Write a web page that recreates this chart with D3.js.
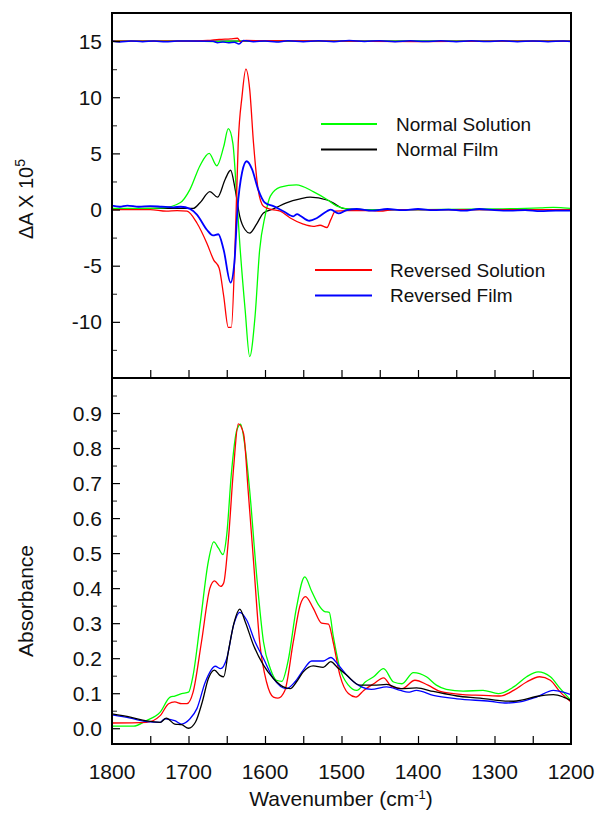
<!DOCTYPE html>
<html>
<head>
<meta charset="utf-8">
<script src="https://cdn.jsdelivr.net/npm/d3@7"></script>
<style>
  html, body { margin: 0; padding: 0; background: #fff; }
  svg { display: block; font-family: "Liberation Sans", Arial, sans-serif; }
</style>
</head>
<body>
<svg id="chart" width="596" height="814"></svg>
<script>
// ---------------- DATA ----------------
const xTicks = [1800, 1700, 1600, 1500, 1400, 1300, 1200];
const topYTicks = [-10, -5, 0, 5, 10, 15];
const botYTicks = [0.0, 0.1, 0.2, 0.3, 0.4, 0.5, 0.6, 0.7, 0.8, 0.9];
const legendLabels = ["Normal Solution", "Normal Film", "Reversed Solution", "Reversed Film"];

// Difference spectra (top panel), [wavenumber, ΔA x 10^5]
const diffNormalSolution = [
  [1800, 0.1], [1760, 0.1], [1733, 0.15], [1711, 0.6], [1698, 1.8], [1685, 3.9], [1673, 5.0],
  [1663, 3.9], [1654, 5.6], [1648, 7.2], [1642, 5.9], [1637, 1.2], [1633, -3.0], [1626, -8.9],
  [1620, -13.1], [1613, -9.5], [1607, -3.6], [1600, -0.6], [1593, 1.2], [1580, 2.0],
  [1559, 2.2], [1537, 1.6], [1519, 0.9], [1506, 0.3], [1493, 0.06], [1470, 0.0], [1400, 0.0],
  [1300, 0.05], [1240, 0.15], [1223, 0.2], [1210, 0.15], [1200, 0.1]
];
const diffNormalFilm = [
  [1800, 0.05], [1750, 0.1], [1694, 0.1], [1685, 0.6], [1672, 1.6], [1662, 1.1], [1652, 2.7],
  [1645, 3.5], [1639, 1.8], [1633, -0.6], [1626, -1.8], [1620, -2.1], [1611, -1.3],
  [1602, -0.3], [1589, 0.06], [1572, 0.6], [1554, 0.95], [1541, 1.1], [1519, 0.85],
  [1511, 0.6], [1498, 0.1], [1485, 0.0], [1400, 0.0], [1300, 0.0], [1200, 0.0]
];
const diffReversedSolution = [
  [1800, 0.0], [1750, 0.0], [1729, -0.15], [1715, -0.1], [1702, -0.15], [1689, -1.2],
  [1676, -3.0], [1667, -4.5], [1660, -5.2], [1654, -7.7], [1648, -10.5], [1644, -10.5],
  [1639, -3.0], [1635, 5.9], [1630, 10.1], [1625, 12.5], [1620, 10.7], [1615, 5.9],
  [1609, 1.8], [1602, 0.3], [1591, 0.0], [1580, -0.15], [1567, -0.75], [1550, -1.3],
  [1537, -1.5], [1528, -1.4], [1519, -1.6], [1514, -0.9], [1508, -0.15], [1493, -0.1],
  [1460, -0.1], [1450, -0.15], [1430, 0.0], [1350, 0.0], [1300, 0.0], [1200, 0.0]
];
const diffReversedFilm = [
  [1800, 0.35], [1790, 0.25], [1780, 0.35], [1765, 0.25], [1750, 0.3], [1735, 0.25],
  [1720, 0.2], [1710, 0.25], [1698, 0.06], [1689, -0.45], [1676, -1.8], [1668, -2.3],
  [1661, -2.2], [1654, -3.6], [1645, -6.5], [1640, -4.7], [1636, 0.0], [1630, 3.3],
  [1624, 4.3], [1617, 3.6], [1609, 1.8], [1600, 0.6], [1589, 0.3], [1576, -0.15],
  [1563, -0.6], [1558, -0.4], [1554, -0.55], [1542, -1.0], [1532, -0.75], [1519, -0.15],
  [1514, 0.0], [1504, -0.35], [1493, -0.05], [1480, 0.05], [1460, -0.1], [1440, 0.05],
  [1420, -0.05], [1400, 0.05], [1380, -0.05], [1360, 0.0], [1340, -0.1], [1320, 0.05],
  [1300, -0.05], [1280, -0.1], [1260, -0.05], [1240, -0.15], [1220, -0.1], [1200, -0.1]
];

// Baseline traces offset to 15 (top panel)
const baseNormalSolution = [[1800, 15.0], [1700, 15.0], [1660, 14.95], [1640, 15.0], [1500, 15.0], [1200, 15.0]];
const baseNormalFilm = [[1800, 15.0], [1600, 15.0], [1400, 15.0], [1200, 15.0]];
const baseReversedSolution = [
  [1800, 15.0], [1700, 15.0], [1675, 15.05], [1660, 15.15], [1645, 15.2], [1636, 15.25],
  [1632, 14.95], [1625, 15.05], [1500, 15.0], [1400, 14.95], [1300, 15.0], [1200, 15.0]
];
const baseReversedFilm = [
  [1800, 15.0], [1790, 14.92], [1775, 15.0], [1760, 14.95], [1745, 15.0], [1730, 14.93],
  [1715, 15.0], [1700, 15.0], [1668, 14.98], [1662, 14.85], [1655, 14.92], [1648, 14.85],
  [1640, 14.9], [1634, 14.75], [1628, 15.05], [1615, 14.95], [1600, 15.0], [1585, 14.92],
  [1570, 15.02], [1550, 14.95], [1530, 15.02], [1510, 14.95], [1490, 15.05], [1470, 14.97],
  [1450, 15.03], [1430, 14.95], [1410, 15.02], [1390, 14.96], [1370, 15.03], [1350, 14.95],
  [1330, 15.02], [1310, 14.97], [1290, 15.02], [1270, 14.95], [1250, 15.0], [1230, 14.95],
  [1210, 15.0], [1200, 14.97]
];

// Absorbance spectra (bottom panel), [wavenumber, absorbance]
const absNormalSolution = [
  [1800, 0.006], [1772, 0.006], [1755, 0.022], [1737, 0.046], [1724, 0.089], [1718, 0.092],
  [1709, 0.099], [1700, 0.103], [1694, 0.151], [1685, 0.295], [1674, 0.477], [1667, 0.532],
  [1661, 0.515], [1655, 0.496], [1650, 0.553], [1644, 0.726], [1637, 0.850], [1632, 0.868],
  [1626, 0.802], [1620, 0.678], [1611, 0.438], [1602, 0.247], [1593, 0.170], [1585, 0.137],
  [1578, 0.134], [1570, 0.190], [1559, 0.343], [1548, 0.432], [1539, 0.391], [1530, 0.352],
  [1522, 0.333], [1516, 0.331], [1511, 0.266], [1502, 0.170], [1491, 0.123], [1480, 0.108],
  [1469, 0.132], [1458, 0.147], [1445, 0.170], [1432, 0.132], [1421, 0.127], [1406, 0.159],
  [1389, 0.147], [1376, 0.123], [1363, 0.111], [1341, 0.106], [1315, 0.108], [1295, 0.099],
  [1275, 0.118], [1258, 0.147], [1243, 0.161], [1227, 0.147], [1214, 0.113], [1200, 0.079]
];
const absNormalFilm = [
  [1800, 0.041], [1776, 0.032], [1755, 0.021], [1737, 0.017], [1729, 0.029], [1718, 0.012],
  [1709, 0.010], [1700, 0.000], [1691, 0.017], [1682, 0.075], [1674, 0.142], [1666, 0.166],
  [1659, 0.151], [1654, 0.147], [1648, 0.218], [1640, 0.305], [1633, 0.340], [1626, 0.305],
  [1615, 0.237], [1602, 0.180], [1589, 0.142], [1576, 0.118], [1567, 0.113], [1559, 0.132],
  [1550, 0.161], [1537, 0.178], [1524, 0.174], [1514, 0.190], [1506, 0.175], [1493, 0.151],
  [1476, 0.123], [1458, 0.123], [1441, 0.125], [1423, 0.113], [1402, 0.115], [1380, 0.105],
  [1349, 0.092], [1319, 0.086], [1293, 0.079], [1275, 0.077], [1241, 0.092], [1223, 0.096],
  [1210, 0.089], [1200, 0.079]
];
const absReversedSolution = [
  [1800, 0.015], [1755, 0.017], [1737, 0.036], [1726, 0.070], [1718, 0.075], [1709, 0.070],
  [1702, 0.070], [1694, 0.103], [1683, 0.247], [1672, 0.400], [1666, 0.421], [1658, 0.405],
  [1654, 0.415], [1648, 0.534], [1641, 0.745], [1635, 0.869], [1628, 0.841], [1622, 0.678],
  [1615, 0.477], [1607, 0.247], [1598, 0.132], [1589, 0.089], [1583, 0.086], [1574, 0.108],
  [1563, 0.247], [1554, 0.352], [1547, 0.376], [1537, 0.343], [1526, 0.300], [1517, 0.297],
  [1511, 0.247], [1502, 0.151], [1491, 0.099], [1481, 0.089], [1471, 0.108], [1458, 0.127],
  [1445, 0.144], [1434, 0.118], [1421, 0.113], [1404, 0.137], [1387, 0.123], [1371, 0.105],
  [1341, 0.096], [1315, 0.094], [1293, 0.092], [1275, 0.108], [1258, 0.132], [1241, 0.147],
  [1227, 0.137], [1214, 0.103], [1200, 0.075]
];
const absReversedFilm = [
  [1800, 0.038], [1776, 0.029], [1755, 0.019], [1737, 0.017], [1731, 0.027], [1718, 0.022],
  [1709, 0.012], [1698, 0.027], [1689, 0.056], [1678, 0.132], [1665, 0.177], [1658, 0.170],
  [1650, 0.199], [1641, 0.295], [1633, 0.331], [1624, 0.309], [1613, 0.247], [1602, 0.199],
  [1589, 0.142], [1572, 0.113], [1561, 0.132], [1550, 0.166], [1539, 0.192], [1524, 0.192],
  [1514, 0.202], [1504, 0.180], [1489, 0.142], [1474, 0.118], [1461, 0.111], [1441, 0.118],
  [1423, 0.108], [1413, 0.103], [1402, 0.108], [1380, 0.094], [1349, 0.084], [1306, 0.077],
  [1284, 0.072], [1267, 0.075], [1245, 0.089], [1223, 0.108], [1210, 0.103], [1200, 0.096]
];

// ---------------- DRAW ----------------
const svg = d3.select("#chart");
const L = 112, R = 571, T = 13, MID = 378, B = 744;
const FONT = "Liberation Sans, Arial, sans-serif";

const x = d3.scaleLinear().domain([1800, 1200]).range([L, R]);
const yTop = d3.scaleLinear().domain([-15, 17.5]).range([MID, T]);
const yBot = d3.scaleLinear().domain([-0.045, 1.0]).range([B, MID]);

const COLORS = { ns: "#00ff00", nf: "#000000", rs: "#ff0000", rf: "#0000ff" };

const defs = svg.append("defs");
defs.append("clipPath").attr("id", "clipTop").append("rect")
  .attr("x", L).attr("y", T).attr("width", R - L).attr("height", MID - T);
defs.append("clipPath").attr("id", "clipBot").append("rect")
  .attr("x", L).attr("y", MID).attr("width", R - L).attr("height", B - MID);

function lineIn(g, data, y, color, width) {
  const line = d3.line().x(d => x(d[0])).y(d => y(d[1])).curve(d3.curveMonotoneX);
  g.append("path").datum(data).attr("d", line)
    .attr("fill", "none").attr("stroke", color).attr("stroke-width", width)
    .attr("stroke-linejoin", "round");
}
const gT = svg.append("g").attr("clip-path", "url(#clipTop)");
lineIn(gT, baseNormalFilm, yTop, COLORS.nf, 1.3);
lineIn(gT, baseNormalSolution, yTop, COLORS.ns, 1.3);
lineIn(gT, baseReversedSolution, yTop, COLORS.rs, 1.3);
lineIn(gT, baseReversedFilm, yTop, COLORS.rf, 1.5);
lineIn(gT, diffNormalFilm, yTop, COLORS.nf, 1.3);
lineIn(gT, diffNormalSolution, yTop, COLORS.ns, 1.3);
lineIn(gT, diffReversedSolution, yTop, COLORS.rs, 1.3);
lineIn(gT, diffReversedFilm, yTop, COLORS.rf, 1.8);

const gB = svg.append("g").attr("clip-path", "url(#clipBot)");
lineIn(gB, absNormalSolution, yBot, COLORS.ns, 1.3);
lineIn(gB, absReversedSolution, yBot, COLORS.rs, 1.3);
lineIn(gB, absReversedFilm, yBot, COLORS.rf, 1.3);
lineIn(gB, absNormalFilm, yBot, COLORS.nf, 1.3);

// Axes (ticks inside)
const xMinor = d3.range(1750, 1200, -50);
svg.append("g").attr("transform", `translate(0,${MID})`)
  .call(d3.axisTop(x).tickValues(xMinor).tickSize(8).tickFormat(""))
  .call(g => g.select(".domain").remove())
  .call(g => g.selectAll("line").attr("stroke", "#000").attr("stroke-width", 1.2));
svg.append("g").attr("transform", `translate(0,${B})`)
  .call(d3.axisTop(x).tickValues(xMinor).tickSize(8).tickFormat(""))
  .call(g => g.select(".domain").remove())
  .call(g => g.selectAll("line").attr("stroke", "#000").attr("stroke-width", 1.2));
svg.append("g").selectAll("text").data(xTicks).join("text")
  .attr("x", d => x(d)).attr("y", 779)
  .attr("text-anchor", "middle").attr("font-family", FONT).attr("font-size", 21)
  .attr("fill", "#111").text(d => d);

// Top y axis
const topMinor = d3.range(-12.5, 17, 2.5);
svg.append("g").attr("transform", `translate(${L},0)`)
  .call(d3.axisRight(yTop).tickValues(topMinor.filter(v => !topYTicks.includes(v))).tickSize(5).tickFormat(""))
  .call(g => g.select(".domain").remove())
  .call(g => g.selectAll("line").attr("stroke", "#444").attr("stroke-width", 1.2));
svg.append("g").attr("transform", `translate(${L},0)`)
  .call(d3.axisRight(yTop).tickValues(topYTicks).tickSize(8).tickFormat(""))
  .call(g => g.select(".domain").remove())
  .call(g => g.selectAll("line").attr("stroke", "#000").attr("stroke-width", 1.2));
svg.append("g").selectAll("text").data(topYTicks).join("text")
  .attr("x", 102).attr("y", d => yTop(d)).attr("dy", "0.36em")
  .attr("text-anchor", "end").attr("font-family", FONT).attr("font-size", 21)
  .attr("fill", "#111").text(d => d);

// Bottom y axis
const botMinor = d3.range(0.05, 1.0, 0.1);
svg.append("g").attr("transform", `translate(${L},0)`)
  .call(d3.axisRight(yBot).tickValues(botMinor).tickSize(5).tickFormat(""))
  .call(g => g.select(".domain").remove())
  .call(g => g.selectAll("line").attr("stroke", "#444").attr("stroke-width", 1.2));
svg.append("g").attr("transform", `translate(${L},0)`)
  .call(d3.axisRight(yBot).tickValues(botYTicks).tickSize(8).tickFormat(""))
  .call(g => g.select(".domain").remove())
  .call(g => g.selectAll("line").attr("stroke", "#000").attr("stroke-width", 1.2));
svg.append("g").selectAll("text").data(botYTicks).join("text")
  .attr("x", 102).attr("y", d => yBot(d)).attr("dy", "0.36em")
  .attr("text-anchor", "end").attr("font-family", FONT).attr("font-size", 21)
  .attr("fill", "#111").text(d => d3.format(".1f")(d));

// Frames
svg.append("rect").attr("x", L).attr("y", T).attr("width", R - L).attr("height", MID - T)
  .attr("fill", "none").attr("stroke", "#000").attr("stroke-width", 2);
svg.append("rect").attr("x", L).attr("y", MID).attr("width", R - L).attr("height", B - MID)
  .attr("fill", "none").attr("stroke", "#000").attr("stroke-width", 2);

// Axis titles
const yt = svg.append("text").attr("transform", "translate(33,199) rotate(-90)")
  .attr("text-anchor", "middle").attr("font-family", FONT).attr("font-size", 20).attr("fill", "#111");
yt.append("tspan").text("ΔA X 10");
yt.append("tspan").attr("font-size", 14).attr("dy", "-0.6em").text("5");

svg.append("text").attr("transform", "translate(33,601) rotate(-90)")
  .attr("text-anchor", "middle").attr("font-family", FONT).attr("font-size", 21).attr("fill", "#111")
  .text("Absorbance");

const xt = svg.append("text").attr("x", 341).attr("y", 806)
  .attr("text-anchor", "middle").attr("font-family", FONT).attr("font-size", 21).attr("fill", "#111");
xt.append("tspan").text("Wavenumber (cm");
xt.append("tspan").attr("font-size", 13).attr("dy", "-0.55em").text("-1");
xt.append("tspan").attr("dy", "0.36em").text(")");

// Legends
const legendItems = [
  { label: legendLabels[0], color: COLORS.ns, x1: 321, x2: 377, y: 124, tx: 396 },
  { label: legendLabels[1], color: COLORS.nf, x1: 321, x2: 377, y: 149.5, tx: 396 },
  { label: legendLabels[2], color: COLORS.rs, x1: 315, x2: 372, y: 270, tx: 390 },
  { label: legendLabels[3], color: COLORS.rf, x1: 315, x2: 372, y: 295.5, tx: 390 }
];
const lg = svg.append("g");
lg.selectAll("line").data(legendItems).join("line")
  .attr("x1", d => d.x1).attr("x2", d => d.x2).attr("y1", d => d.y).attr("y2", d => d.y)
  .attr("stroke", d => d.color).attr("stroke-width", 2.2);
lg.selectAll("text").data(legendItems).join("text")
  .attr("x", d => d.tx).attr("y", d => d.y).attr("dy", "0.36em")
  .attr("font-family", FONT).attr("font-size", 19).attr("fill", "#111")
  .text(d => d.label);
</script>
</body>
</html>
